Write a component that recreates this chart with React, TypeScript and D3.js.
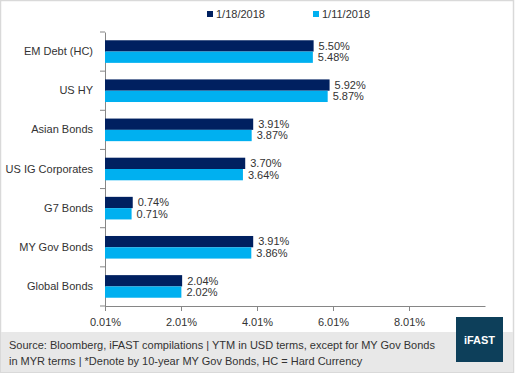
import React, { useRef, useEffect } from 'react'
import { select, scaleLinear, scaleBand, axisBottom, axisLeft } from 'd3'

// chart data
const categories = ['EM Debt (HC)', 'US HY', 'Asian Bonds', 'US IG Corporates', 'G7 Bonds', 'MY Gov Bonds', 'Global Bonds']
const series1 = [5.50, 5.92, 3.91, 3.70, 0.74, 3.91, 2.04]  // 1/18/2018
const series2 = [5.48, 5.87, 3.87, 3.64, 0.71, 3.86, 2.02]  // 1/11/2018
const seriesNames = ['1/18/2018', '1/11/2018']
const xTicks = [0.01, 2.01, 4.01, 6.01, 8.01]

const colors = ['#002060', '#00B0F0']
const font = '"Liberation Sans", Arial, sans-serif'

export default function App() {
  const svgRef = useRef<SVGSVGElement>(null)

  useEffect(() => {
    const svg = select(svgRef.current)
    svg.selectAll('*').remove()

    const W = 515, H = 373
    const left = 105, right = 485, top = 32, bottom = 306

    // frame
    svg.append('rect')
      .attr('x', 0.5).attr('y', 0.5).attr('width', W - 2).attr('height', H - 1)
      .attr('fill', '#fff').attr('stroke', '#d9d9d9').attr('stroke-width', 1.5)

    const x = scaleLinear().domain([0.01, 10.01]).range([left, right])
    const y = scaleBand().domain(categories).range([top, bottom])
    const barH = 11.3
    const gap = (y.bandwidth() - barH * 2) / 2

    // x axis
    const gx = svg.append('g').attr('transform', `translate(0,${bottom})`)
      .call(axisBottom(x).tickValues(xTicks).tickFormat(d => (+d).toFixed(2) + '%').tickSize(5).tickSizeOuter(0))
    gx.select('.domain').attr('stroke', '#868686')
    gx.selectAll('.tick line').attr('stroke', '#868686')
    gx.selectAll('.tick text').attr('fill', '#333').attr('font-size', 11).attr('font-family', font).attr('dy', '1.1em')

    // y axis
    const gy = svg.append('g').attr('transform', `translate(${left},0)`)
      .call(axisLeft(y).tickSize(0).tickPadding(12))
    gy.select('.domain').attr('stroke', '#868686')
    gy.selectAll('.tick text').attr('fill', '#333').attr('font-size', 11).attr('font-family', font)
    // category separators
    svg.append('g').selectAll('line')
      .data(categories.concat(['']))
      .join('line')
      .attr('x1', left - 5).attr('x2', left)
      .attr('y1', (d, i) => top + i * y.step()).attr('y2', (d, i) => top + i * y.step())
      .attr('stroke', '#868686')

    const all = [series1, series2]
    all.forEach((s, si) => {
      const g = svg.append('g')
      g.selectAll('rect')
        .data(s)
        .join('rect')
        .attr('x', x(0.01))
        .attr('y', (d, i) => (y(categories[i]) as number) + gap + si * barH)
        .attr('width', d => x(d) - x(0.01))
        .attr('height', barH)
        .attr('fill', colors[si])
      g.selectAll('text')
        .data(s)
        .join('text')
        .attr('x', d => x(d) + 5)
        .attr('y', (d, i) => (y(categories[i]) as number) + gap + si * barH + barH / 2)
        .attr('dy', '0.35em')
        .attr('font-size', 11).attr('font-family', font).attr('fill', '#333')
        .text(d => d.toFixed(2) + '%')
    })

    // legend
    const legX = [207, 313]
    seriesNames.forEach((n, i) => {
      svg.append('rect').attr('x', legX[i]).attr('y', 11).attr('width', 6).attr('height', 6).attr('fill', colors[i])
      svg.append('text').attr('x', legX[i] + 9).attr('y', 14).attr('dy', '0.35em')
        .attr('font-size', 11).attr('font-family', font).attr('fill', '#333').text(n)
    })

    // footer
    svg.append('rect').attr('x', 1).attr('y', 332).attr('width', W - 3).attr('height', H - 333).attr('fill', '#e8e8e8')
    const foot = svg.append('text').attr('font-size', 11).attr('font-family', font).attr('fill', '#333')
    foot.append('tspan').attr('x', 9).attr('y', 349).text('Source: Bloomberg, iFAST compilations | YTM in USD terms, except for MY Gov Bonds')
    foot.append('tspan').attr('x', 9).attr('y', 365).text('in MYR terms | *Denote by 10-year MY  Gov Bonds, HC = Hard Currency')

    svg.append('rect').attr('x', 456).attr('y', 317).attr('width', 47).attr('height', 45).attr('fill', '#0d3f5a')
    svg.append('text').attr('x', 479.5).attr('y', 340).attr('dy', '0.35em').attr('text-anchor', 'middle')
      .attr('font-size', 11).attr('font-weight', 'bold').attr('font-family', font)
      .attr('fill', '#fff').text('iFAST')
  }, [])

  return (
    <svg ref={svgRef} width={515} height={373} style={{ position: 'absolute', left: 0, top: 0 }} />
  )
}
